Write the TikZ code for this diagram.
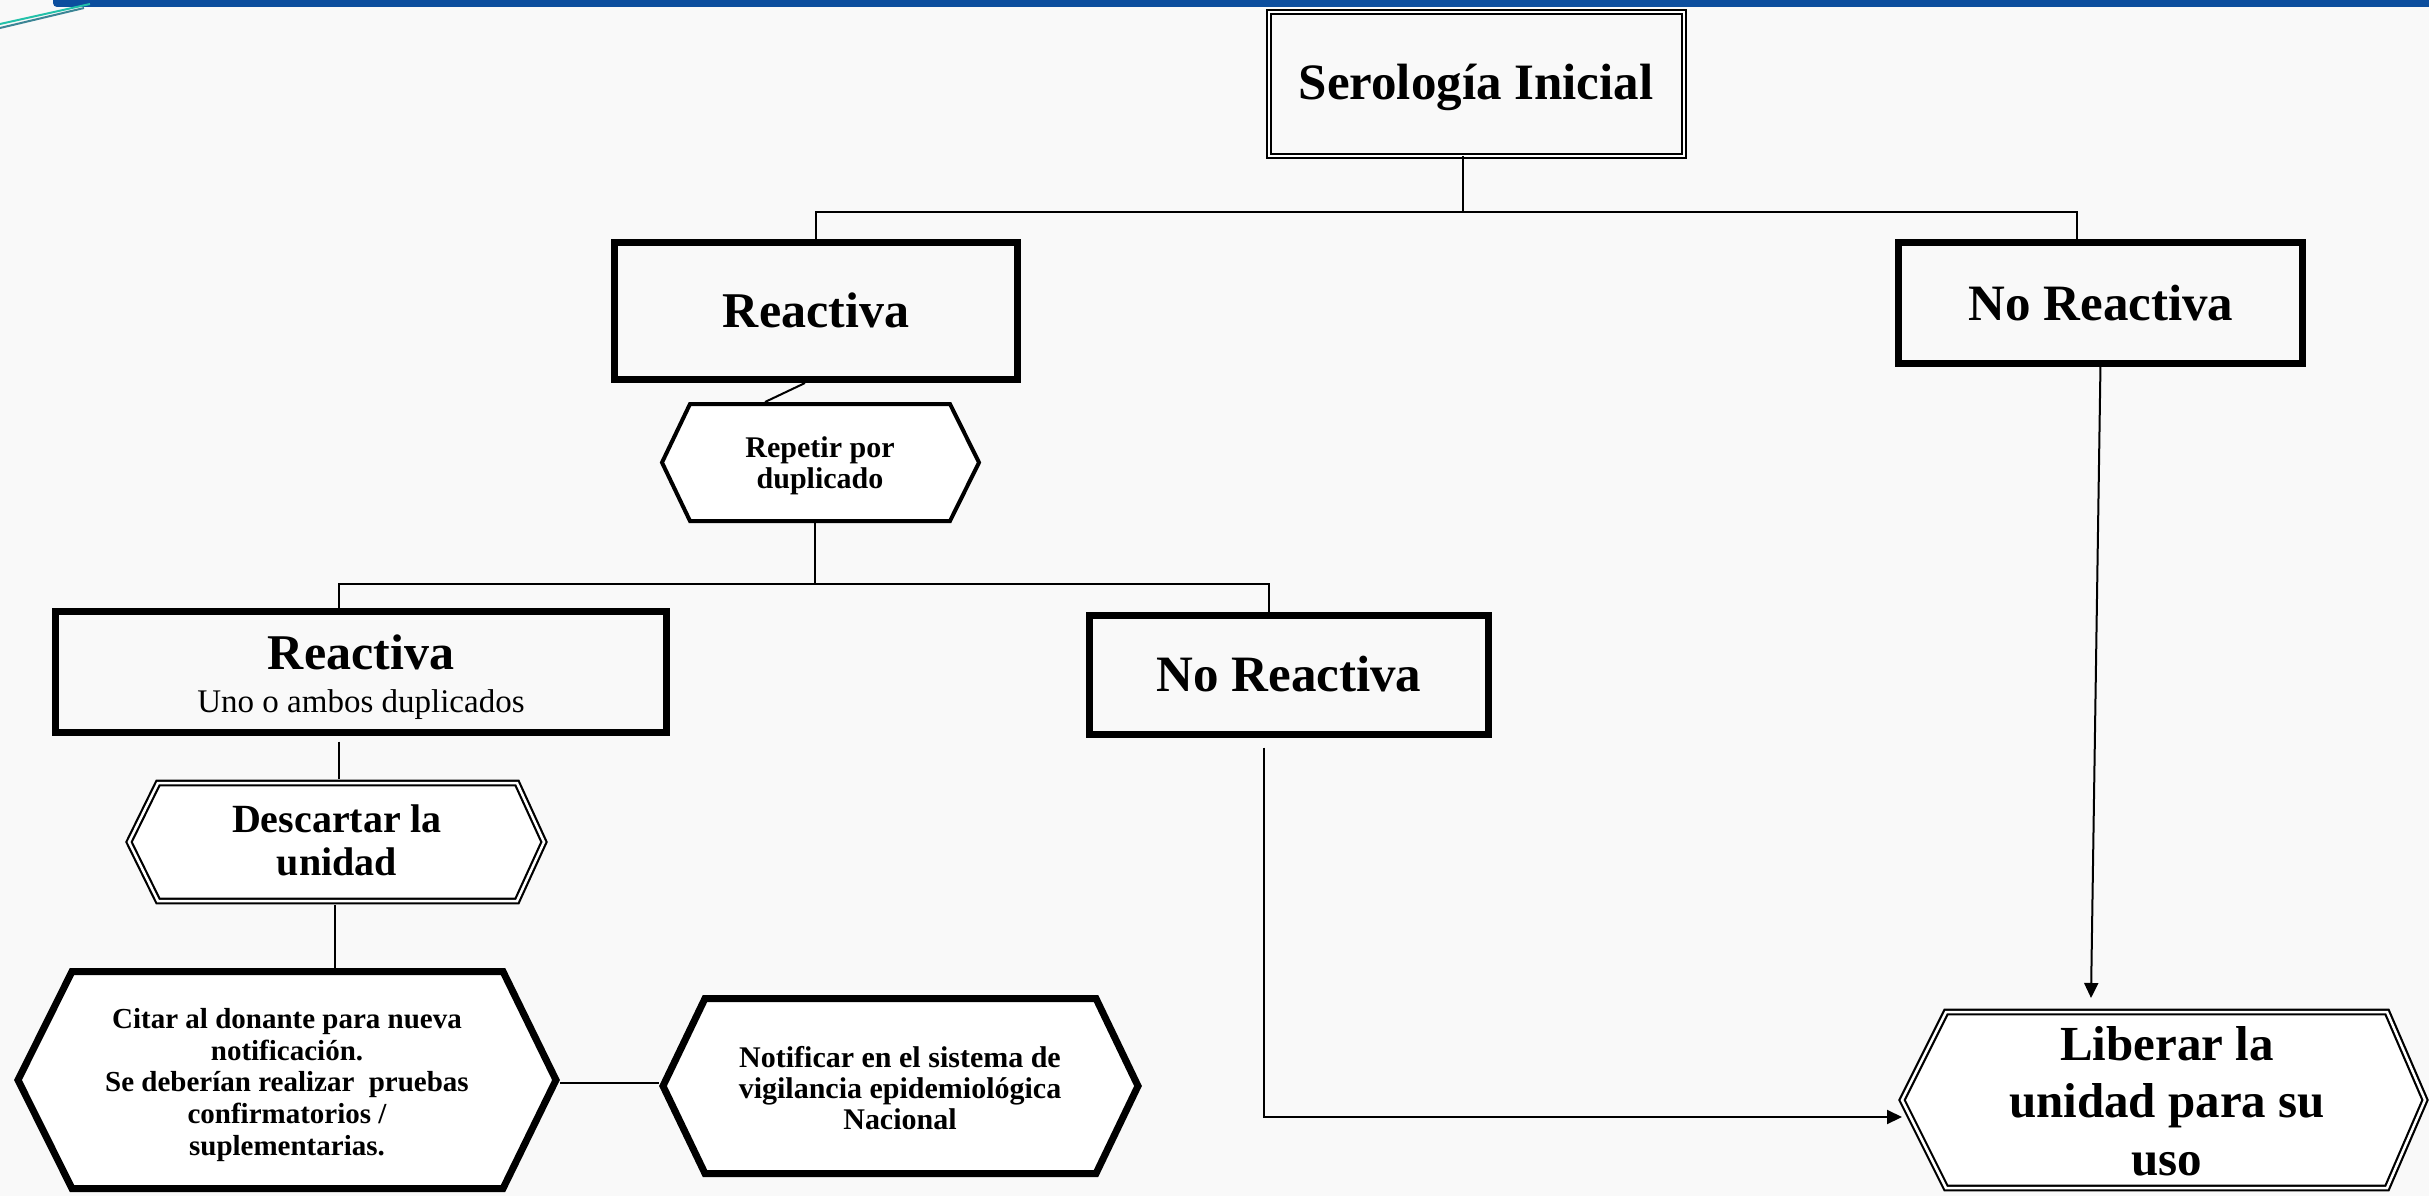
\documentclass[tikz,border=0pt]{standalone}
\usepackage{fontspec}
\setmainfont{Liberation Serif}
\usetikzlibrary{arrows.meta,calc}
\definecolor{bgc}{HTML}{F9F9F9}
\definecolor{barblue}{HTML}{0C4E9E}
\definecolor{tealA}{HTML}{22C1A9}
\definecolor{tealB}{HTML}{3C8595}
\begin{document}
\begin{tikzpicture}[x=1pt,y=-1pt,
  conn/.style={line width=2pt, black},
  arr/.style={conn, -{Triangle[length=15pt,width=14pt]}},
  rbox/.style={draw, line width=7pt, rectangle, inner sep=0pt, outer sep=0pt},
  dblbox/.style={draw, double=white, line width=2.2pt, double distance=2.5pt, rectangle, inner sep=0pt, outer sep=0pt},
  hexthick/.style={draw, fill=white, line width=7pt},
  hexthin/.style={draw, fill=white, line width=4pt},
  hexdbl/.style={draw, fill=white, double=white, line width=2.2pt, double distance=2.5pt},
  txt/.style={inner sep=0pt, outer sep=0pt, align=center, text=black}]
% background
\fill[bgc] (0,0) rectangle (2429,1196);
\useasboundingbox (0,0) rectangle (2429,1196);
\fill[barblue, rounded corners=4pt] (53,-12) rectangle (2445,7);
\draw[tealA, line width=2pt] (0,24) -- (90,4);
\draw[tealB, line width=2pt] (0,28) -- (84,8);

% rectangles
\node[dblbox, minimum width=415pt, minimum height=144pt] (ser) at (1476.5,84) {};
\node[rbox, minimum width=403pt, minimum height=137pt] (rea1) at (816,311) {};
\node[rbox, minimum width=404pt, minimum height=121pt] (nor1) at (2100.5,303) {};
\node[rbox, minimum width=399pt, minimum height=119pt] (nor2) at (1289,675) {};
\node[rbox, minimum width=611pt, minimum height=121pt] (rea2) at (361,672) {};

% hexagons
\draw[hexthin] (662,462.5) -- (690,404) -- (950,404) -- (979,462.5) -- (950,521) -- (690,521) -- cycle;
\coordinate (rep-n) at (765,402);
\coordinate (rep-s) at (815,523);
\draw[hexdbl] (129,842) -- (158,783) -- (517,783) -- (544,842) -- (517,901) -- (158,901) -- cycle;
\coordinate (des-n) at (339,779);
\coordinate (des-s) at (335,905);
\draw[hexthick] (18,1080) -- (72,971.5) -- (503,971.5) -- (556,1080) -- (503,1188.5) -- (72,1188.5) -- cycle;
\coordinate (cit-n) at (335,968);
\coordinate (cit-e) at (560,1083);
\draw[hexthick] (663,1086) -- (705,998.5) -- (1096,998.5) -- (1138,1086) -- (1096,1173.5) -- (705,1173.5) -- cycle;
\coordinate (not-w) at (659,1083);
\draw[hexdbl] (1902,1100) -- (1946,1012) -- (2387,1012) -- (2425,1100) -- (2387,1188) -- (1946,1188) -- cycle;
\coordinate (lib-n) at (2091,998);
\coordinate (lib-w) at (1902,1117);

% texts
\node[txt, anchor=base, font={\fontsize{51}{60}\selectfont\bfseries}] (sert) at (1476,100) {Serología Inicial};
\node[txt, anchor=base, font={\fontsize{50}{60}\selectfont\bfseries}] (rea1t) at (816,327) {Reactiva};
\node[txt, anchor=base, font={\fontsize{51}{60}\selectfont\bfseries}] (nor1t) at (2101,320) {No Reactiva};
\node[txt, anchor=base, font={\fontsize{51}{60}\selectfont\bfseries}] (nor2t) at (1289,691) {No Reactiva};
\node[txt, anchor=base, font={\fontsize{50}{60}\selectfont\bfseries}] (rea2t) at (361,669) {Reactiva};
\node[txt, anchor=base, font={\fontsize{33}{40}\selectfont}] (rea2s) at (361,712) {Uno o ambos duplicados};
\node[txt, font={\fontsize{30}{31.5}\selectfont\bfseries}] (rept) at (820,466) {Repetir por\\duplicado};
\node[txt, font={\fontsize{40}{43}\selectfont\bfseries}] (dest) at (337,840) {Descartar la\\unidad};
\node[txt, font={\fontsize{29}{31.6}\selectfont\bfseries}] (citt) at (287,1085) {Citar al donante para nueva\\notificación.\\Se deberían realizar\ \ pruebas\\confirmatorios /\\suplementarias.};
\node[txt, font={\fontsize{30}{31}\selectfont\bfseries}] (nott) at (900,1088) {Notificar en el sistema de\\vigilancia epidemiológica\\Nacional};
\node[txt, font={\fontsize{49}{57.5}\selectfont\bfseries}] (libt) at (2167,1101) {Liberar la\\unidad para su\\uso};

% connectors
\coordinate (j1) at (1463,212);
\coordinate (j1r) at (2077,212);
\draw[conn] (ser.south -| j1) -- (j1);
\draw[conn] (rea1.north) |- (j1r) -- (j1r |- nor1.north);
\draw[conn] ($(rea1.south)+(-11,3.5)$) -- (rep-n);
\coordinate (j2) at (815,584);
\coordinate (j2l) at (339,584);
\coordinate (j2r) at (1269,584);
\draw[conn] (rep-s) -- (j2);
\draw[conn] (j2l |- rea2.north) -- (j2l) -- (j2r) -- (j2r |- nor2.north);
\draw[conn] (rea2.south -| des-n) ++(0,9) -- (des-n);
\draw[conn] (des-s) -- (cit-n);
\draw[conn] (cit-e) -- (not-w);
\draw[arr] (nor1.south) -- (lib-n);
\draw[arr] ($(nor2.south)+(-25,13)$) |- (lib-w);
\end{tikzpicture}
\end{document}
